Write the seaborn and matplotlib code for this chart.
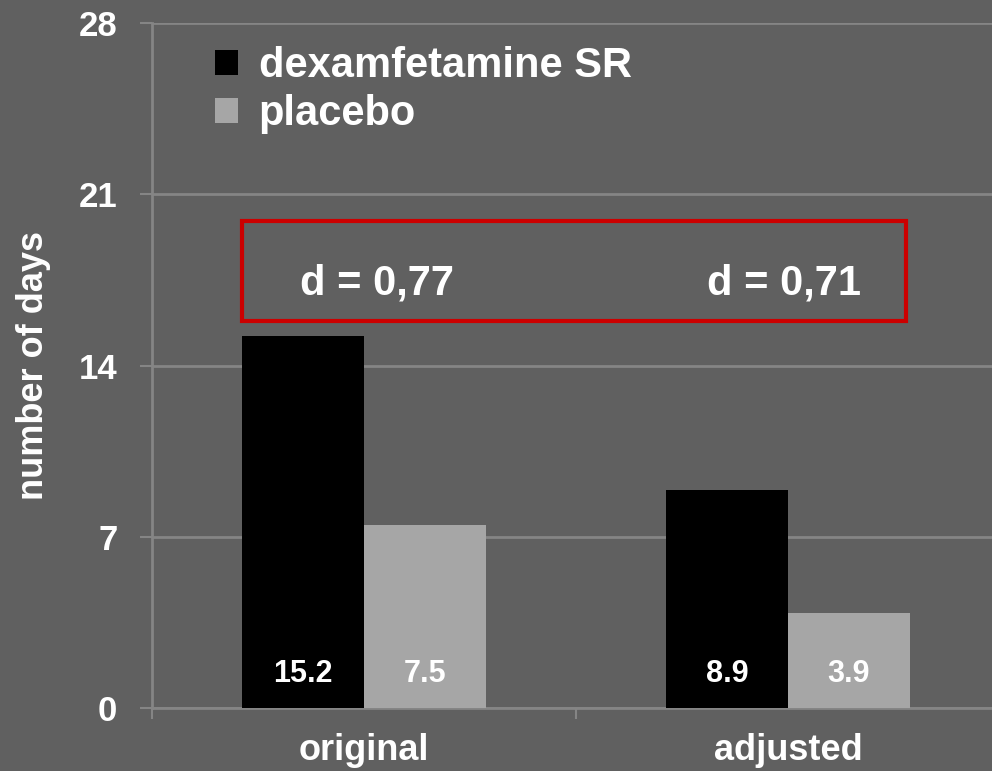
import matplotlib
matplotlib.use("Agg")
import matplotlib.pyplot as plt
import matplotlib.patches as mpatches
from matplotlib.ticker import FixedLocator
import seaborn as sns
import pandas as pd

# data
conditions = ["original", "adjusted"]
groups = ["dexamfetamine SR", "placebo"]
dex_values = [15.2, 8.9]
placebo_values = [7.5, 3.9]
effect_labels = ["d = 0,77", "d = 0,71"]
y_ticks = [0, 7, 14, 21, 28]

bg = "#606060"
bar_colors = {"dexamfetamine SR": "#000000", "placebo": "#a6a6a6"}
grid_color = "#858585"

df = pd.DataFrame({
    "condition": conditions * 2,
    "group": [groups[0]] * 2 + [groups[1]] * 2,
    "days": dex_values + placebo_values,
})

sns.set_theme(style="white")
plt.rcParams["font.family"] = ["Liberation Sans", "DejaVu Sans"]
plt.rcParams["font.weight"] = "bold"

fig = plt.figure(figsize=(9.92, 7.71), dpi=100, facecolor=bg)
ax = fig.add_axes([152 / 992, 63 / 771, 840 / 992, 685 / 771])
ax.set_facecolor(bg)

sns.barplot(data=df, x="condition", y="days", hue="group", order=conditions,
            hue_order=groups, palette=bar_colors, width=0.574, gap=0,
            saturation=1, edgecolor="none", linewidth=0, ax=ax, legend=False,
            errorbar=None, zorder=3)

ax.set_xlim(-0.5, -0.5 + 840 / 424)
ax.set_ylim(0, 28)

# grid and axes lines
ax.set_yticks(y_ticks)
ax.yaxis.grid(True, color=grid_color, linewidth=2, zorder=0)
ax.set_axisbelow(True)
for side in ["top", "right"]:
    ax.spines[side].set_visible(False)
ax.spines["left"].set_color(grid_color)
ax.spines["left"].set_linewidth(2)
ax.spines["bottom"].set_color(grid_color)
ax.spines["bottom"].set_linewidth(2)

ax.tick_params(axis="y", left=True, length=9, width=1.5, color=grid_color,
               pad=16, labelsize=25, labelcolor="white")
ax.tick_params(axis="x", which="major", bottom=True, length=0, pad=18,
               labelsize=26, labelcolor="white")
ax.xaxis.set_minor_locator(FixedLocator([-0.5, 0.5, 1.5]))
ax.tick_params(axis="x", which="minor", bottom=True, length=8, width=1.5,
               color=grid_color)
for lab in ax.get_xticklabels() + ax.get_yticklabels():
    lab.set_fontweight("bold")

ax.set_xlabel("")
ax.set_ylabel("number of days", fontsize=26, fontweight="bold", color="white",
              labelpad=20)

# value labels at the base of each bar
for container in ax.containers:
    for bar in container:
        h = bar.get_height()
        ax.text(bar.get_x() + bar.get_width() / 2, 1.4, f"{h:.1f}",
                ha="center", va="center", color="white", fontsize=22,
                fontweight="bold", zorder=5)

# effect size box
box = mpatches.Rectangle((-0.288, 15.82), 1.567, 4.09, fill=False,
                         edgecolor="#cc0000", linewidth=3, zorder=4)
ax.add_patch(box)
for xc, lab in zip([0.03, 0.99], effect_labels):
    ax.text(xc, 17.35, lab, ha="center", va="center", color="white",
            fontsize=30, fontweight="bold", zorder=5)

# legend
handles = [mpatches.Patch(facecolor=bar_colors[g], edgecolor="none", label=g)
           for g in groups]
leg = ax.legend(handles=handles, loc="upper left",
                bbox_to_anchor=(215 / 992, 1 - 46 / 771),
                bbox_transform=fig.transFigure, frameon=False,
                prop={"size": 30, "weight": "bold"}, handlelength=0.55,
                handleheight=0.55, handletextpad=0.5, labelspacing=0.2,
                borderaxespad=0, borderpad=0)
for t in leg.get_texts():
    t.set_color("white")

fig.savefig("out.png", dpi=100, facecolor=bg)
